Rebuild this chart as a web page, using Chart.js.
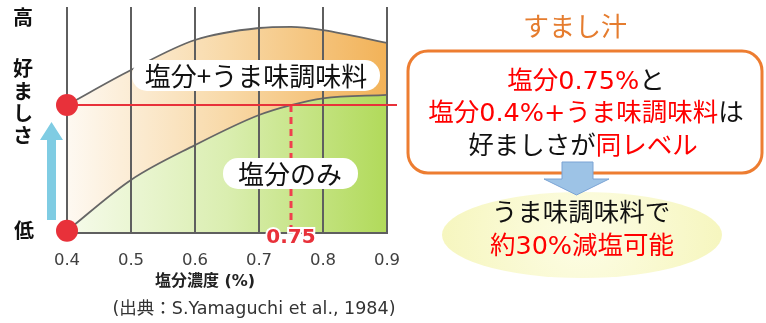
<!DOCTYPE html>
<html>
<head>
<meta charset="utf-8">
<script src="https://cdn.jsdelivr.net/npm/chart.js@4/dist/chart.umd.min.js"></script>
<style>
  html, body { margin: 0; padding: 0; background: #fff; }
  #wrap { position: relative; width: 766px; height: 323px; }
</style>
</head>
<body>
<div id="wrap"><canvas id="chart"></canvas></div>
<script>
// data (y = preference, 0 = low .. 100 = high)
const saltLevels = [0.4, 0.5, 0.6, 0.7, 0.75, 0.8, 0.9];
const saltOnly = [1, 23.5, 38.9, 52.2, 56.6, 59.6, 61.1];
const saltUmami = [56.6, 72.1, 85.4, 90.7, 91.2, 89.8, 84.1];
const saltTicks = [0.4, 0.5, 0.6, 0.7, 0.8, 0.9];
const sameLevelSalt = 0.75;

const FONT = '"DejaVu Sans", "Noto Sans CJK JP", sans-serif';
const JP = '"Noto Sans CJK JP", sans-serif';
const RED = '#e8313a';

function hGradient(chart, stops) {
    const a = chart.chartArea;
    if (!a) return null;
    const g = chart.ctx.createLinearGradient(a.left, 0, a.right, 0);
    stops.forEach(s => g.addColorStop(s[0], s[1]));
    return g;
}

function roundRect(ctx, x, y, w, h, r) {
    ctx.beginPath();
    ctx.moveTo(x + r, y);
    ctx.arcTo(x + w, y, x + w, y + h, r);
    ctx.arcTo(x + w, y + h, x, y + h, r);
    ctx.arcTo(x, y + h, x, y, r);
    ctx.arcTo(x, y, x + w, y, r);
    ctx.closePath();
}

// everything that is not a dataset: red guide lines, labels, side notes
const notes = {
    id: 'notes',
    afterDraw(chart) {
        const ctx = chart.ctx;
        const xs = chart.scales.x, ys = chart.scales.y;
        const x0 = xs.getPixelForValue(saltLevels[0]);
        const yHi = ys.getPixelForValue(saltUmami[0]);
        const yLo = ys.getPixelForValue(saltOnly[0]);
        const x75 = xs.getPixelForValue(sameLevelSalt);
        const bottom = chart.chartArea.bottom;
        ctx.save();

        // dashed drop line at 0.75
        ctx.strokeStyle = '#f0404e';
        ctx.lineWidth = 3;
        ctx.setLineDash([7, 5]);
        ctx.beginPath();
        ctx.moveTo(x75, yHi);
        ctx.lineTo(x75, bottom);
        ctx.stroke();
        ctx.setLineDash([]);

        // horizontal red line
        ctx.strokeStyle = RED;
        ctx.lineWidth = 2;
        ctx.beginPath();
        ctx.moveTo(x0, yHi);
        ctx.lineTo(397, yHi);
        ctx.stroke();

        // red dots
        ctx.fillStyle = RED;
        [yHi, yLo].forEach(y => {
            ctx.beginPath();
            ctx.arc(x0, y, 11, 0, Math.PI * 2);
            ctx.fill();
        });

        // 0.75 label
        ctx.font = 'bold 20px ' + FONT;
        ctx.textAlign = 'center';
        ctx.textBaseline = 'middle';
        ctx.lineWidth = 4;
        ctx.strokeStyle = '#fff';
        ctx.strokeText('0.75', x75, 238);
        ctx.fillStyle = '#e8313a';
        ctx.fillText('0.75', x75, 238);

        // curve labels
        ctx.fillStyle = '#fff';
        roundRect(ctx, 132, 60, 248, 31, 15);
        ctx.fill();
        roundRect(ctx, 223, 158, 135, 31, 15);
        ctx.fill();
        ctx.fillStyle = '#111';
        ctx.font = '26px ' + JP;
        ctx.fillText('塩分+うま味調味料', 256, 76);
        ctx.fillText('塩分のみ', 290, 174);

        // y axis words
        ctx.font = 'bold 20px ' + JP;
        ctx.fillStyle = '#111';
        ctx.fillText('高', 23, 17);
        ctx.fillText('低', 24, 230);
        [['好', 68], ['ま', 91], ['し', 113], ['さ', 135]].forEach(c => ctx.fillText(c[0], 23, c[1]));

        // light blue arrow
        ctx.fillStyle = '#7fcce3';
        ctx.beginPath();
        ctx.moveTo(47, 220);
        ctx.lineTo(56, 220);
        ctx.lineTo(56, 140);
        ctx.lineTo(63, 140);
        ctx.lineTo(51.5, 122);
        ctx.lineTo(40, 140);
        ctx.lineTo(47, 140);
        ctx.closePath();
        ctx.fill();

        // x axis title + source
        ctx.font = 'bold 16px ' + FONT;
        ctx.fillStyle = '#222';
        ctx.fillText('塩分濃度 (%)', 205, 282);
        ctx.font = '17.5px ' + FONT;
        ctx.fillStyle = '#333';
        ctx.fillText('(出典：S.Yamaguchi et al., 1984)', 254, 309);

        // right side panel
        ctx.font = '26px ' + JP;
        ctx.fillStyle = '#e57c2e';
        ctx.fillText('すまし汁', 575, 26);

        ctx.strokeStyle = '#ed7d31';
        ctx.lineWidth = 3;
        ctx.fillStyle = '#fff';
        roundRect(ctx, 408, 51, 354, 122, 20);
        ctx.fill();
        ctx.stroke();

        function mixed(parts, cx, cy) {
            let w = 0;
            parts.forEach(p => { w += ctx.measureText(p[0]).width; });
            let x = cx - w / 2;
            ctx.textAlign = 'left';
            parts.forEach(p => {
                ctx.fillStyle = p[1];
                ctx.fillText(p[0], x, cy);
                x += ctx.measureText(p[0]).width;
            });
            ctx.textAlign = 'center';
        }
        ctx.font = '25.5px ' + FONT;
        mixed([['塩分0.75%', '#ff0000'], ['と', '#111']], 586, 82);
        mixed([['塩分0.4%+うま味調味料', '#ff0000'], ['は', '#111']], 586, 114);
        mixed([['好ましさが', '#111'], ['同レベル', '#ff0000']], 583, 147);

        // yellow ellipse
        const eg = ctx.createRadialGradient(582, 235, 20, 582, 235, 140);
        eg.addColorStop(0, '#fcfce0');
        eg.addColorStop(1, '#f6f6bf');
        ctx.fillStyle = eg;
        ctx.beginPath();
        ctx.ellipse(582, 235, 140, 43, 0, 0, Math.PI * 2);
        ctx.fill();

        // blue down arrow
        ctx.fillStyle = '#9dc3e6';
        ctx.strokeStyle = '#7aa3d4';
        ctx.lineWidth = 1;
        ctx.beginPath();
        ctx.moveTo(562, 162);
        ctx.lineTo(593, 162);
        ctx.lineTo(593, 179);
        ctx.lineTo(609, 179);
        ctx.lineTo(576.5, 195);
        ctx.lineTo(544, 179);
        ctx.lineTo(562, 179);
        ctx.closePath();
        ctx.fill();
        ctx.stroke();

        ctx.font = '25.5px ' + FONT;
        ctx.fillStyle = '#111';
        ctx.fillText('うま味調味料で', 581, 214);
        ctx.fillStyle = '#ff0000';
        ctx.fillText('約30%減塩可能', 582, 247);

        ctx.restore();
    }
};

const canvas = document.getElementById('chart');

new Chart(canvas, {
    type: 'line',
    data: {
        datasets: [{
            label: '塩分のみ',
            data: saltLevels.map((s, i) => ({ x: s, y: saltOnly[i] })),
            borderColor: '#666',
            borderWidth: 1.8,
            pointRadius: 0,
            cubicInterpolationMode: 'monotone',
            fill: 'origin',
            backgroundColor: c => hGradient(c.chart, [[0, '#f6fbeb'], [0.5, '#daeeb0'], [1, '#b1da5a']])
        }, {
            label: '塩分+うま味調味料',
            data: saltLevels.map((s, i) => ({ x: s, y: saltUmami[i] })),
            borderColor: '#666',
            borderWidth: 1.8,
            pointRadius: 0,
            cubicInterpolationMode: 'monotone',
            fill: '-1',
            backgroundColor: c => hGradient(c.chart, [[0, '#fef9f2'], [0.5, '#f8d9a8'], [1, '#f2b258']])
        }]
    },
    options: {
        responsive: true,
        maintainAspectRatio: false,
        animation: false,
        layout: {
            padding: { left: 67, right: 379, top: 7, bottom: 53 }
        },
        scales: {
            x: {
                type: 'linear',
                min: saltTicks[0],
                max: saltTicks[saltTicks.length - 1],
                afterBuildTicks: scale => {
                    scale.ticks = saltTicks.map(v => ({ value: v }));
                },
                afterFit: scale => {
                    scale.height = 37;
                },
                grid: {
                    color: '#5f5f5f',
                    lineWidth: 2,
                    drawTicks: false,
                    z: 1
                },
                border: { display: true, color: '#5f5f5f', width: 2, z: 1 },
                ticks: {
                    padding: 18,
                    color: '#404040',
                    font: { family: FONT, size: 16.5 },
                    callback: v => v.toFixed(1),
                    maxRotation: 0
                }
            },
            y: {
                display: false,
                min: 0,
                max: 100
            }
        },
        plugins: {
            legend: { display: false },
            tooltip: { enabled: false }
        }
    },
    plugins: [notes]
});
</script>
</body>
</html>
